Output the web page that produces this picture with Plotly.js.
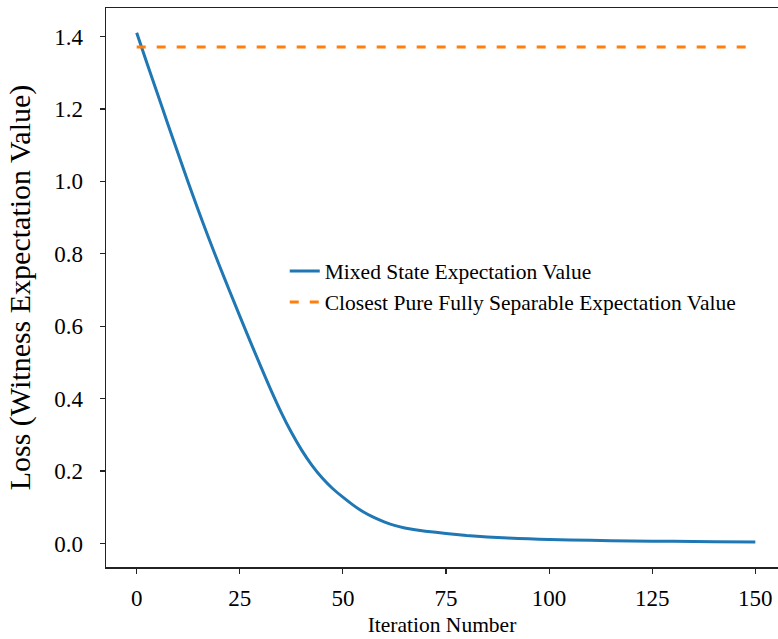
<!DOCTYPE html>
<html>
<head>
<meta charset="utf-8">
<script src="https://cdn.plot.ly/plotly-3.0.1.min.js"></script>
<style>html,body{margin:0;padding:0;background:#fff;}#chart{width:778px;height:639px;}</style>
</head>
<body>
<div id="chart"></div>
<script>
// Data
var iterations = [0, 2.5, 5, 7.5, 10, 12.5, 15, 17.5, 20, 22.5, 25, 27.5, 30, 32.5, 35, 37.5, 40, 42.5, 45, 47.5, 50, 52.5, 55, 57.5, 60, 62.5, 65, 67.5, 70, 75, 80, 85, 90, 95, 100, 110, 120, 130, 140, 150];
var mixedLoss = [1.41, 1.326, 1.243, 1.160, 1.078, 0.997, 0.918, 0.842, 0.769, 0.698, 0.628, 0.559, 0.491, 0.425, 0.363, 0.307, 0.258, 0.216, 0.181, 0.152, 0.128, 0.106, 0.087, 0.072, 0.060, 0.050, 0.043, 0.038, 0.034, 0.028, 0.022, 0.018, 0.015, 0.013, 0.011, 0.009, 0.007, 0.006, 0.005, 0.004];
var separableX = [0, 150];
var separableValue = [1.371, 1.371];
var seriesNames = ["Mixed State Expectation Value", "Closest Pure Fully Separable Expectation Value"];
var xTicks = [0, 25, 50, 75, 100, 125, 150];
var yTicks = [0.0, 0.2, 0.4, 0.6, 0.8, 1.0, 1.2, 1.4];

var serif = "Liberation Serif";

var traces = [
  {x: iterations, y: mixedLoss, mode: "lines", name: seriesNames[0],
   line: {color: "#1f77b4", width: 3, shape: "spline", smoothing: 0.5}},
  {x: separableX, y: separableValue, mode: "lines", name: seriesNames[1],
   line: {color: "#ff7f0e", width: 3, dash: "9px,11px"}}
];

var layout = {
  width: 778, height: 639,
  margin: {l: 106, r: 0, t: 7.5, b: 72, pad: 0},
  paper_bgcolor: "#fff", plot_bgcolor: "#fff",
  showlegend: true,
  hovermode: false,
  font: {family: serif, color: "#000", size: 22},
  xaxis: {
    range: [-7.44, 155.5],
    tickvals: xTicks, ticktext: xTicks.map(String),
    ticks: "outside", ticklen: 5, tickwidth: 1.2, tickcolor: "#222",
    showline: true, linecolor: "#222", linewidth: 1.5, mirror: true,
    showgrid: false, zeroline: false,
    tickfont: {family: serif, size: 23, color: "#000"},
    ticklabelstandoff: 5,
    title: {text: "Iteration Number", font: {family: serif, size: 21.5, color: "#000"}, standoff: 7}
  },
  yaxis: {
    range: [-0.0648, 1.4786],
    tickvals: yTicks, ticktext: yTicks.map(function(v){return v.toFixed(1);}),
    ticks: "outside", ticklen: 5, tickwidth: 1.2, tickcolor: "#222",
    showline: true, linecolor: "#222", linewidth: 1.5, mirror: false,
    showgrid: false, zeroline: false,
    tickfont: {family: serif, size: 23, color: "#000"},
    ticklabelstandoff: 12,
    title: {text: "Loss (Witness Expectation Value)", font: {family: serif, size: 30, color: "#000"}, standoff: 14}
  },
  legend: {
    x: 0.266, y: 0.566, xanchor: "left", yanchor: "top",
    bgcolor: "rgba(0,0,0,0)", borderwidth: 0,
    font: {family: serif, size: 21.5, color: "#000"},
    tracegroupgap: 0
  }
};

Plotly.newPlot("chart", traces, layout, {displayModeBar: false, staticPlot: true});
</script>
</body>
</html>
